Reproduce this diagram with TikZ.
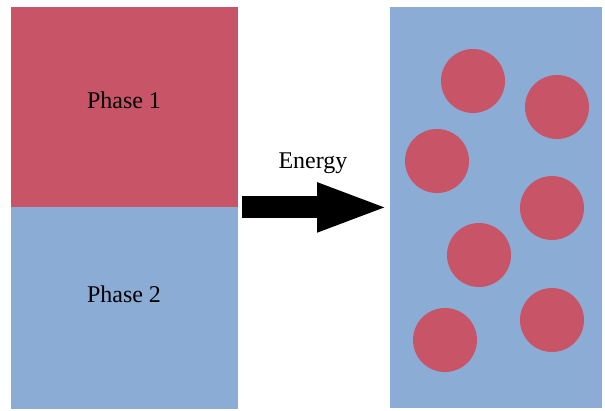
\documentclass[tikz,border=0pt]{standalone}
\usepackage{fontspec}
\setmainfont{Liberation Serif}
\usepackage{xcolor}
\usetikzlibrary{arrows.meta}
\definecolor{phasered}{RGB}{200,84,104}
\definecolor{phaseblue}{RGB}{139,172,212}

\begin{document}
\begin{tikzpicture}[x=1pt,y=-1pt,
  panel/.style={fill=#1,draw=none,anchor=north west,inner sep=0pt},
  drop/.style={circle,fill=phasered,draw=none,minimum size=64pt,inner sep=0pt},
  lbl/.style={anchor=base,font=\fontsize{24}{28}\selectfont},
  bigarrow/.style={line width=22pt,-{Triangle[length=73pt,width=44pt]}}]
  \useasboundingbox (0,0) rectangle (605,410);
  \node[panel=phasered,minimum width=227pt,minimum height=200pt] (phaseone) at (11,7) {};
  \node[panel=phaseblue,minimum width=227pt,minimum height=201.5pt,yshift=0.5pt] (phasetwo) at (phaseone.south west) {};
  \node[panel=phaseblue,minimum width=212pt,minimum height=401pt] (mixture) at (390,7) {};
  \node[lbl] (lblone) at (124,108) {Phase 1};
  \node[lbl] (lbltwo) at (124,302) {Phase 2};
  \node[lbl] (lblenergy) at (313,168) {Energy};
  \draw[bigarrow] ([xshift=4pt]phaseone.south east) -- (phaseone.south east -| mixture.west);
  \node[drop] (d1) at (473,81) {};
  \node[drop] (d2) at (557,107) {};
  \node[drop] (d3) at (437,161) {};
  \node[drop] (d4) at (552,208) {};
  \node[drop] (d5) at (479,255) {};
  \node[drop] (d6) at (445,340) {};
  \node[drop] (d7) at (552,320) {};
\end{tikzpicture}
\end{document}
